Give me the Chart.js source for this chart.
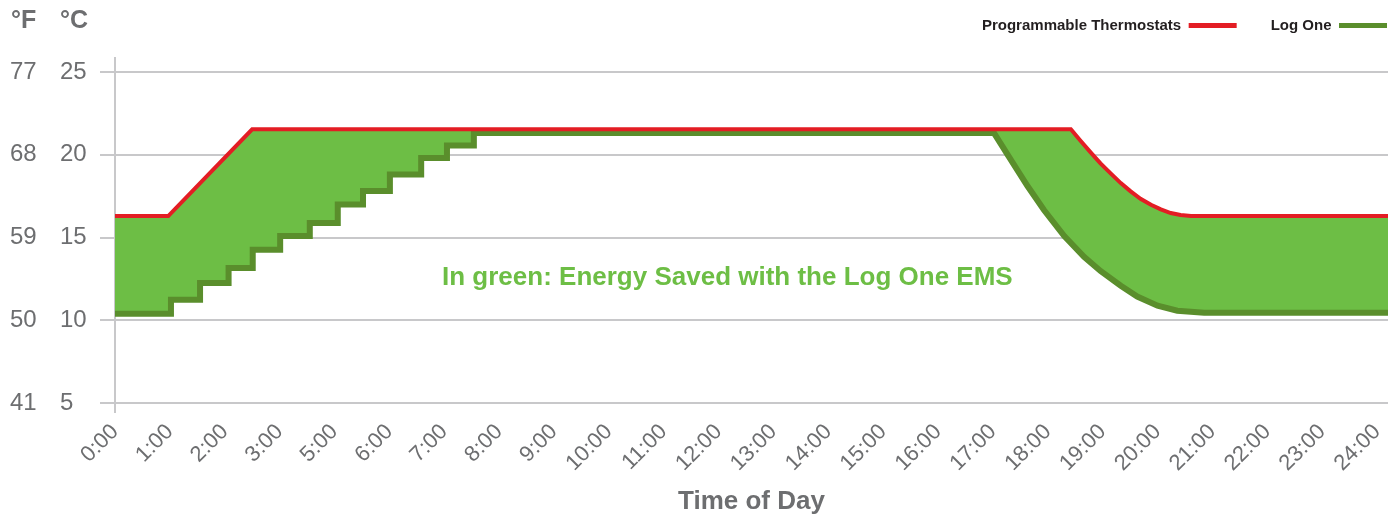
<!DOCTYPE html>
<html>
<head>
<meta charset="utf-8">
<title>Log One EMS vs Programmable Thermostats</title>
<script src="https://cdn.jsdelivr.net/npm/chart.js@4.4.1/dist/chart.umd.min.js"></script>
<style>
  html,body{margin:0;padding:0;background:#fff;}
  #wrap{position:relative;width:1391px;height:517px;}
</style>
</head>
<body>
<div id="wrap"><canvas id="chart"></canvas></div>
<script>
// ════════════════════════════════
// data (x = label slot, y = °C)
// ════════════════════════════════
const TIME_LABELS = ['0:00','1:00','2:00','3:00','5:00','6:00','7:00','8:00','9:00','10:00','11:00','12:00',
                     '13:00','14:00','15:00','16:00','17:00','18:00','19:00','20:00','21:00','22:00','23:00','24:00'];
const TEMP_F_TICKS = [41, 50, 59, 68, 77];

// programmable thermostat setpoint
const THERMO_X = [0, 0.97, 2.5, 17.42, 17.60, 17.78, 17.96, 18.15, 18.33, 18.51, 18.69, 18.88, 19.06, 19.24, 19.42, 19.61, 23.2];
const THERMO_C = [16.3, 16.3, 21.54, 21.54, 20.83, 20.15, 19.48, 18.86, 18.29, 17.79, 17.34, 16.98, 16.70, 16.48, 16.36, 16.3, 16.3];

// Log One: morning staircase (slot where each level starts)
const STEP_X = [0, 1.02, 1.55, 2.07, 2.51, 3.01, 3.55, 4.06, 4.52, 5.01, 5.58, 6.05, 6.54];
const STEP_C = [10.40, 11.24, 12.25, 13.16, 14.26, 15.09, 15.88, 16.99, 17.81, 18.81, 19.80, 20.56, 21.31];
// Log One: evening set-back
const EVE_X = [16.02, 16.33, 16.63, 16.93, 17.30, 17.66, 17.96, 18.33, 18.63, 19.00, 19.36, 19.85, 23.2];
const EVE_C = [21.31, 19.68, 18.11, 16.66, 15.09, 13.84, 12.98, 12.09, 11.43, 10.88, 10.58, 10.46, 10.46];

const NOTE = 'In green: Energy Saved with the Log One EMS';
const NOTE_AT = [11.16, 12.55];

// ════════════════════════════════
// style
// ════════════════════════════════
const FONT = '"Liberation Sans", Arial, Helvetica, sans-serif';
const GRAY = '#6d6e70';
const GRID = '#c8c8ca';
const RED = '#e31d24';
const DARK_GREEN = '#5a8e2c';
const FILL_GREEN = '#6dbe45';

Chart.defaults.font.family = FONT;

const thermoPts = THERMO_X.map((x,i)=>({x, y:THERMO_C[i]}));

const logOnePts = [];
STEP_X.forEach((x,i)=>{
  if(i>0) logOnePts.push({x, y:STEP_C[i-1]});
  logOnePts.push({x, y:STEP_C[i]});
});
EVE_X.forEach((x,i)=>logOnePts.push({x, y:EVE_C[i]}));

// ════════════════════════════════
// plugins
// ════════════════════════════════
// legend sits on the header row, flush right
const legendRow = {
  id:'legendRow',
  afterLayout(chart){
    const lg = chart.legend;
    if(!lg) return;
    lg.top -= 15; lg.bottom -= 15;
    lg.width += 33; lg.right += 33;
  }
};

// unit header + the note inside the plot
const texts = {
  id:'texts',
  afterDraw(chart){
    const {ctx, scales} = chart;
    ctx.save();
    ctx.textBaseline = 'middle';
    ctx.textAlign = 'left';
    ctx.fillStyle = GRAY;
    ctx.font = `bold 25px ${FONT}`;
    ctx.fillText('°F', scales.yF.left + 1, 21);
    ctx.fillText('°C', scales.y.left, 21);

    ctx.textAlign = 'center';
    ctx.fillStyle = FILL_GREEN;
    ctx.font = `bold 26px ${FONT}`;
    ctx.fillText(NOTE, scales.x.getPixelForValue(NOTE_AT[0]), scales.y.getPixelForValue(NOTE_AT[1]));
    ctx.restore();
  }
};

// ════════════════════════════════
// chart
// ════════════════════════════════
new Chart(document.getElementById('chart'), {
  type:'line',
  data:{
    datasets:[
      {
        label:'Programmable Thermostats',
        data:thermoPts,
        borderColor:RED,
        backgroundColor:RED,
        borderWidth:4,
        borderJoinStyle:'miter',
        pointRadius:0,
        tension:0,
        fill:false
      },
      {
        label:'Log One',
        data:logOnePts,
        borderColor:DARK_GREEN,
        backgroundColor:FILL_GREEN,
        borderWidth:6,
        borderJoinStyle:'miter',
        pointRadius:0,
        tension:0,
        fill:'-1'
      }
    ]
  },
  options:{
    responsive:true,
    maintainAspectRatio:false,
    animation:false,
    events:[],
    layout:{padding:{top:-1, left:10, right:3, bottom:0}},
    plugins:{
      legend:{
        position:'top',
        align:'start',
        rtl:true,
        reverse:true,
        labels:{
          boxWidth:48,
          boxHeight:5,
          padding:34,
          color:'#231f20',
          font:{family:FONT, size:15, weight:'bold'},
          generateLabels: chart => Chart.defaults.plugins.legend.labels.generateLabels(chart)
            .map(it => ({...it, fillStyle:it.strokeStyle, lineWidth:0}))
        }
      },
      tooltip:{enabled:false}
    },
    scales:{
      x:{
        type:'linear',
        min:0,
        max:23.2,
        border:{display:false},
        grid:{
          drawOnChartArea:false,
          tickLength:10,
          lineWidth:2,
          color: c => (c.tick && c.tick.value === 0) ? GRID : 'transparent'
        },
        ticks:{
          stepSize:1,
          includeBounds:false,
          autoSkip:false,
          minRotation:45,
          maxRotation:45,
          padding:6,
          color:GRAY,
          font:{size:22},
          callback: v => TIME_LABELS[v]
        },
        title:{
          display:true,
          text:'Time of Day',
          color:GRAY,
          font:{size:26, weight:'bold'},
          padding:{top:0, bottom:0}
        },
        afterFit: s => { s.height = 114; s.paddingLeft = 0; s.paddingRight = 0; }
      },
      y:{
        position:'left',
        weight:0,
        min:5,
        max:25.85,
        border:{color:GRID, width:2},
        grid:{color:GRID, lineWidth:2, tickLength:15},
        ticks:{
          stepSize:5,
          includeBounds:false,
          crossAlign:'far',
          color:GRAY,
          font:{size:24}
        },
        afterFit: s => { s.width = 55; s.paddingTop = 0; s.paddingBottom = 0; }
      },
      yF:{
        position:'left',
        weight:1,
        min:5,
        max:25.85,
        border:{display:false},
        grid:{display:false, drawTicks:false},
        ticks:{
          stepSize:5,
          includeBounds:false,
          crossAlign:'far',
          color:GRAY,
          font:{size:24},
          callback: (v,i) => TEMP_F_TICKS[i]
        },
        afterFit: s => { s.width = 50; s.paddingTop = 0; s.paddingBottom = 0; }
      }
    }
  },
  plugins:[legendRow, texts]
});
</script>
</body>
</html>
